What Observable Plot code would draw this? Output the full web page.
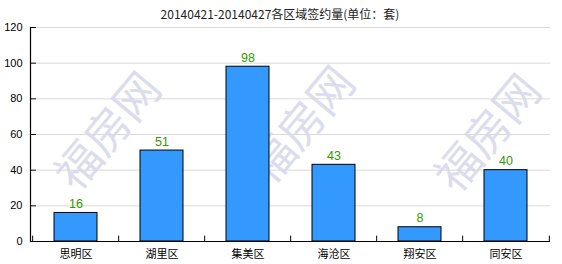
<!DOCTYPE html>
<html><head><meta charset="utf-8">
<script src="https://cdn.jsdelivr.net/npm/d3@7"></script>
<script src="https://cdn.jsdelivr.net/npm/@observablehq/plot@0.6"></script>
<style>
html,body{margin:0;padding:0;background:#fff;}
#wrap{position:relative;width:562px;height:264px;overflow:hidden;font-family:"Noto Sans CJK SC","Liberation Sans",sans-serif;}
#title{position:absolute;left:0;top:5px;width:560px;text-align:center;font-size:12px;color:#222;z-index:2;}
.wm{position:absolute;font-size:45px;line-height:50px;color:#dcdcec;transform:rotate(-50deg);transform-origin:center;white-space:nowrap;font-family:"Noto Sans CJK SC",serif;z-index:0;}
#chart{position:absolute;left:0;top:0;z-index:1;}
#chart svg{background:transparent !important;}
</style></head>
<body><div id="wrap">
<div class="wm" style="left:38px;top:104px;">福房网</div>
<div class="wm" style="left:232px;top:98px;">福房网</div>
<div class="wm" style="left:418px;top:106px;">福房网</div>
<div id="title">20140421-20140427各区域签约量(单位：套)</div>
<div id="chart"></div>
</div>
<script>
const districts = ["思明区","湖里区","集美区","海沧区","翔安区","同安区"];
const values = [16, 51, 98, 43, 8, 40];
const yTicks = [0, 20, 40, 60, 80, 100, 120];
const data = districts.map((d, i) => ({district: d, value: values[i]}));
const plotW = 562 - 30 - 12;
const step = plotW / 6;
const chart = Plot.plot({
  width: 562, height: 264,
  marginLeft: 30, marginRight: 12, marginTop: 27, marginBottom: 23,
  style: {background: "transparent", fontFamily: "Liberation Sans, sans-serif"},
  x: {domain: districts, paddingInner: 0.5, paddingOuter: 0.25, label: null},
  y: {domain: [0, 120], label: null},
  marks: [
    Plot.ruleY(yTicks.filter(t => t > 0), {stroke: "#dadada", strokeWidth: 1, insetLeft: 6}),
    Plot.ruleY(yTicks, {stroke: "#000", strokeWidth: 1, insetRight: plotW - 6}),
    Plot.barY(data, {x: "district", y: "value", fill: "#3399ff", stroke: "#000", strokeWidth: 1}),
    Plot.text(data, {x: "district", y: "value", text: d => String(d.value), dy: -9, fill: "#339900", fontSize: 12.5, fontFamily: "Liberation Sans, sans-serif"}),
    Plot.ruleY([0], {stroke: "#000", strokeWidth: 1.2}),
    Plot.ruleX(districts, {x: d => d, dx: -step / 2, y1: 0, y2: 3, stroke: "#000"}),
    Plot.ruleX([districts[districts.length - 1]], {x: d => d, dx: step / 2, y1: 0, y2: 3, stroke: "#000"}),
    Plot.axisY({ticks: yTicks, tickSize: 0, tickPadding: 8, fontSize: 11, fill: "#000"}),
    Plot.frame({anchor: "left", stroke: "#000", strokeWidth: 1.2}),
    Plot.axisX({tickSize: 0, tickPadding: 9, fontSize: 11, fill: "#000", fontFamily: "Noto Sans CJK SC"})
  ]
});
document.getElementById("chart").appendChild(chart);
</script>
</body></html>
